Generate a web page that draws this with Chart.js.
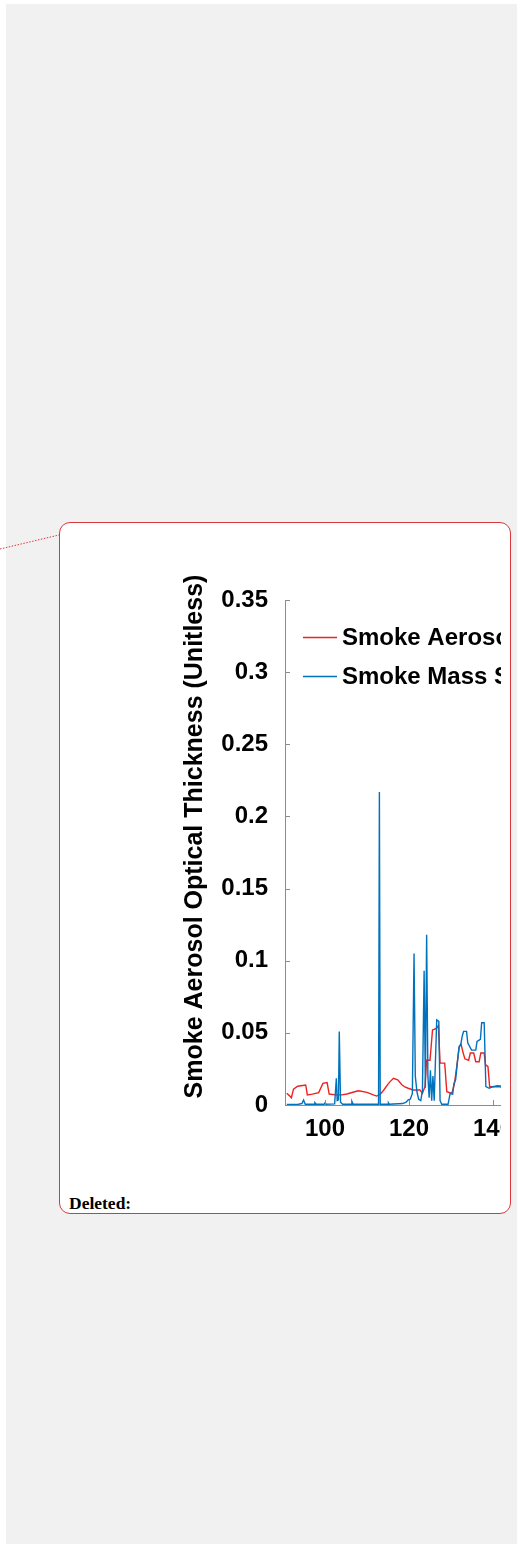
<!DOCTYPE html>
<html><head><meta charset="utf-8">
<script src="https://cdn.jsdelivr.net/npm/chart.js@4/dist/chart.umd.min.js"></script>
<style>
html,body{margin:0;padding:0;background:#fff;width:520px;height:1548px;overflow:hidden;}
#page{position:absolute;left:6px;top:4px;width:511px;height:1540px;background:#f1f1f1;}
#bubble{position:absolute;left:59px;top:522px;width:450px;height:690px;border:1px solid #d9383e;border-radius:11px;background:#fff;}
#clip{position:absolute;left:60px;top:523px;width:441px;height:640px;overflow:hidden;}
#c{position:absolute;left:0;top:0;}
#del{position:absolute;left:69px;top:1193px;font:bold 17.5px "Liberation Serif","Times New Roman",serif;color:#000;white-space:nowrap;}
#conn{position:absolute;left:0;top:0;}
</style></head>
<body>
<div id="page"></div>
<svg id="conn" width="70" height="560"><line x1="0" y1="549" x2="59" y2="535" stroke="#d9383e" stroke-width="1" stroke-dasharray="1.5,1.5"/></svg>
<div id="bubble"></div>
<div id="clip"><canvas id="c" width="520" height="640"></canvas></div>
<div id="del">Deleted:</div>
<script>
const seriesLabels = ['Smoke Aerosol Optical Thickness', 'Smoke Mass Surface Concentration'];
const yTitle = 'Smoke Aerosol Optical Thickness (Unitless)';
const xTicks = [100, 120, 140];
const yTicks = [0, 0.05, 0.1, 0.15, 0.2, 0.25, 0.3, 0.35];

const redX = [90.9, 91.5, 92.0, 92.5, 93.5, 95.4, 95.8, 97.0, 98.5, 99.5, 100.5, 101.0, 102.5, 104.0, 105.2, 107.5, 108.0, 110.0, 111.5, 112.3, 113.2, 114.0, 115.0, 115.5, 116.3, 117.3, 118.3, 119.0, 119.8, 121.0, 122.6, 123.2, 123.8, 124.2, 125.0, 125.6, 126.5, 127.0, 127.4, 128.5, 129.0, 130.2, 130.8, 131.3, 132.0, 132.4, 132.9, 133.3, 134.2, 134.6, 135.4, 135.9, 136.7, 137.1, 137.9, 138.2, 138.8, 139.2, 140.0, 141.0, 142.5, 143.5];
const redY = [0.0081, 0.0065, 0.0050, 0.0110, 0.0130, 0.0139, 0.0070, 0.0075, 0.0086, 0.0150, 0.0155, 0.0076, 0.0070, 0.0070, 0.0076, 0.0095, 0.0099, 0.0088, 0.0070, 0.0062, 0.0075, 0.0104, 0.0145, 0.0162, 0.0185, 0.0175, 0.0140, 0.0125, 0.0116, 0.0104, 0.0105, 0.0081, 0.0127, 0.0310, 0.0310, 0.0520, 0.0530, 0.0550, 0.0290, 0.0290, 0.0092, 0.0081, 0.0145, 0.0250, 0.0410, 0.0420, 0.0360, 0.0320, 0.0310, 0.0360, 0.0360, 0.0300, 0.0300, 0.0360, 0.0360, 0.0280, 0.0266, 0.0127, 0.0127, 0.0134, 0.0130, 0.0130];

const blueX = [90.9, 93.5, 94.5, 94.9, 95.3, 97.4, 97.6, 97.9, 99.8, 100.0, 100.3, 102.3, 102.7, 102.9, 103.2, 103.4, 103.7, 104.2, 106.2, 106.4, 106.7, 112.75, 112.95, 113.15, 115.0, 115.1, 115.3, 118.5, 119.3, 119.8, 120.3, 120.8, 121.2, 121.5, 121.9, 122.3, 122.8, 123.2, 123.6, 123.9, 124.2, 124.5, 124.8, 125.1, 125.4, 125.7, 126.0, 126.6, 127.1, 127.4, 127.8, 129.3, 129.8, 130.4, 130.7, 131.1, 131.5, 131.9, 132.3, 132.7, 133.0, 133.7, 134.0, 134.9, 135.9, 136.2, 137.0, 137.3, 137.9, 138.3, 139.1, 140.0, 141.5, 142.5, 143.5];
const blueY = [0.0004, 0.0004, 0.0010, 0.0035, 0.0005, 0.0005, 0.0016, 0.0005, 0.0005, 0.0015, 0.0005, 0.0008, 0.0185, 0.0030, 0.0035, 0.0510, 0.0020, 0.0005, 0.0005, 0.0025, 0.0005, 0.0005, 0.2170, 0.0005, 0.0005, 0.0015, 0.0005, 0.0010, 0.0020, 0.0035, 0.0040, 0.0080, 0.1050, 0.0200, 0.0090, 0.0040, 0.0030, 0.0100, 0.0930, 0.0120, 0.1180, 0.0200, 0.0050, 0.0240, 0.0030, 0.0200, 0.0030, 0.0590, 0.0580, 0.0030, 0.0005, 0.0005, 0.0080, 0.0076, 0.0150, 0.0175, 0.0290, 0.0400, 0.0416, 0.0480, 0.0510, 0.0510, 0.0430, 0.0380, 0.0380, 0.0440, 0.0455, 0.0570, 0.0570, 0.0127, 0.0116, 0.0127, 0.0127, 0.0120, 0.0120];

const redColor = '#ee2222';
const blueColor = '#0072bd';
const axisColor = '#8c8c8c';
const tickFont = {family: '"Liberation Sans", Arial, Helvetica, sans-serif', size: 24, weight: 'bold'};

const toPoints = (xs, ys) => xs.map((x, i) => ({x: x, y: ys[i]}));

const inwardTicks = {
  id: 'inwardTicks',
  afterDatasetsDraw(chart) {
    const {ctx, chartArea: a, scales: {x, y}} = chart;
    ctx.save();
    ctx.strokeStyle = axisColor;
    ctx.lineWidth = 1;
    ctx.beginPath();
    x.ticks.forEach(t => { const px = Math.round(x.getPixelForValue(t.value)) + 0.5; ctx.moveTo(px, a.bottom); ctx.lineTo(px, a.bottom - 5); });
    y.ticks.forEach(t => { const py = Math.round(y.getPixelForValue(t.value)) + 0.5; ctx.moveTo(a.left, py); ctx.lineTo(a.left + 5, py); });
    ctx.stroke();
    ctx.restore();
  }
};

const insideLegend = {
  id: 'insideLegend',
  afterDraw(chart) {
    const {ctx, chartArea: a} = chart;
    ctx.save();
    ctx.font = 'bold 24px "Liberation Sans", Arial, Helvetica, sans-serif';
    ctx.textBaseline = 'middle';
    ctx.textAlign = 'left';
    chart.data.datasets.forEach((ds, i) => {
      const yy = a.top + 37.5 + i * 39;
      ctx.strokeStyle = ds.borderColor;
      ctx.lineWidth = 1.3;
      ctx.beginPath();
      ctx.moveTo(a.left + 18, yy);
      ctx.lineTo(a.left + 52, yy);
      ctx.stroke();
      ctx.fillStyle = '#000';
      ctx.fillText(ds.label, a.left + 57, yy + 1);
    });
    ctx.restore();
  }
};

const yAxisTitle = {
  id: 'yAxisTitle',
  afterDraw(chart) {
    const {ctx, chartArea: a} = chart;
    ctx.save();
    ctx.translate(a.left - 90, (a.top + a.bottom) / 2 - 16);
    ctx.rotate(-Math.PI / 2);
    ctx.font = 'bold 25px "Liberation Sans", Arial, Helvetica, sans-serif';
    ctx.textAlign = 'center';
    ctx.textBaseline = 'middle';
    ctx.fillStyle = '#000';
    ctx.fillText(yTitle, 0, 0);
    ctx.restore();
  }
};

new Chart(document.getElementById('c'), {
  type: 'line',
  data: {
    datasets: [
      {label: seriesLabels[0], data: toPoints(redX, redY), borderColor: redColor, borderWidth: 1.4, pointRadius: 0, tension: 0, fill: false, order: 1},
      {label: seriesLabels[1], data: toPoints(blueX, blueY), borderColor: blueColor, borderWidth: 1.4, pointRadius: 0, tension: 0, fill: false, order: 0}
    ]
  },
  options: {
    responsive: false,
    animation: false,
    layout: {padding: {left: 100, top: 77, right: 45, bottom: 0}},
    plugins: {legend: {display: false}, tooltip: {enabled: false}},
    scales: {
      x: {
        type: 'linear', min: 90.476, max: 150,
        afterBuildTicks: s => { s.ticks = xTicks.map(v => ({value: v})); },
        afterFit: s => { s.height = 58; },
        grid: {display: false},
        border: {display: true, color: axisColor, width: 1},
        ticks: {font: tickFont, color: '#000', padding: 2, maxRotation: 0, callback: v => String(v)}
      },
      y: {
        type: 'linear', min: 0, max: 0.35,
        afterBuildTicks: s => { s.ticks = yTicks.map(v => ({value: v})); },
        afterFit: s => { s.width = 125; },
        grid: {display: false},
        border: {display: true, color: axisColor, width: 1},
        ticks: {font: tickFont, color: '#000', padding: 9, callback: v => String(+Number(v).toFixed(2))}
      }
    }
  },
  plugins: [inwardTicks, insideLegend, yAxisTitle]
});
</script>
</body></html>
